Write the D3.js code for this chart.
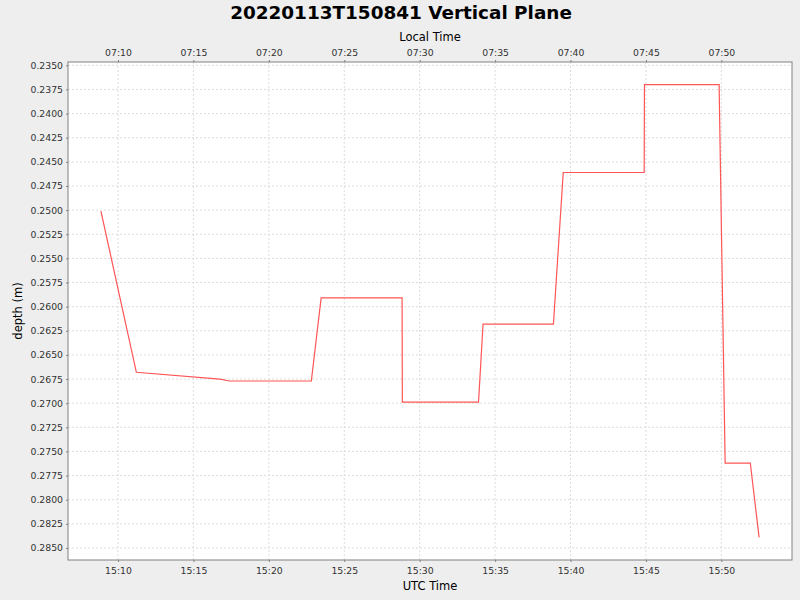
<!DOCTYPE html>
<html>
<head>
<meta charset="utf-8">
<script src="https://cdn.jsdelivr.net/npm/d3@7"></script>
<style>
  body { margin: 0; background: #eeeeee; }
  svg { display: block; font-family: "DejaVu Sans", sans-serif; }
</style>
</head>
<body>
<svg id="chart" width="800" height="600"></svg>
<script>
// Samples (UTC, 2022-01-13) and depth in metres
const times = [
  "15:08:52", "15:11:13", "15:16:45", "15:17:24", "15:22:49", "15:23:28",
  "15:28:50", "15:28:51", "15:33:54", "15:34:12", "15:38:52", "15:39:31",
  "15:44:53", "15:44:54", "15:49:51", "15:50:15", "15:51:55", "15:52:30"
];
const depths = [
  0.2501, 0.2668, 0.2675, 0.2677, 0.2677, 0.2591,
  0.2591, 0.2699, 0.2699, 0.2618, 0.2618, 0.2461,
  0.2461, 0.2370, 0.2370, 0.2762, 0.2762, 0.2839
];
const yTicks = d3.range(0, 21).map(i => 0.2350 + i * 0.0025);
const utcOffsetHours = -8;

const title = "20220113T150841 Vertical Plane";

const parse = d3.utcParse("%Y-%m-%d %H:%M:%S");
const data = times.map((t, i) => ({ t: parse("2022-01-13 " + t), d: depths[i] }));

const margin = { left: 68, right: 8, top: 62, bottom: 40 };
const width = 800 - margin.left - margin.right;
const height = 600 - margin.top - margin.bottom;
const tickFont = 9.3;

// auto range with 5% padding each side
const pad = (ext, f) => {
  const span = ext[1] - ext[0];
  return [ext[0] - span * f, ext[1] + span * f];
};
const tDom = pad(d3.extent(data, p => +p.t), 0.05);
const dDom = pad(d3.extent(data, p => p.d), 0.05);

const xScale = d3.scaleUtc()
  .domain(tDom.map(v => new Date(v)))
  .range([0, width]);
const xLocal = d3.scaleUtc()
  .domain(tDom.map(v => new Date(v + utcOffsetHours * 3600000)))
  .range([0, width]);
const yScale = d3.scaleLinear()
  .domain(dDom)
  .range([0, height]);

const svg = d3.select("#chart");
svg.append("rect").attr("width", 800).attr("height", 600).attr("fill", "#eeeeee");

svg.append("text")
  .attr("x", 401).attr("y", 18.5)
  .attr("text-anchor", "middle")
  .attr("font-size", 18.4).attr("font-weight", "bold")
  .text(title);

const g = svg.append("g").attr("transform", `translate(${margin.left}, ${margin.top})`);

g.append("rect")
  .attr("width", width).attr("height", height)
  .attr("fill", "#ffffff");

// grid
const xTickVals = xScale.ticks(d3.utcMinute.every(5));
g.append("g").selectAll("line").data(xTickVals).join("line")
  .attr("x1", d => xScale(d)).attr("x2", d => xScale(d))
  .attr("y1", 0).attr("y2", height)
  .attr("stroke", "#dcdcdc").attr("stroke-dasharray", "2,2");
g.append("g").selectAll("line").data(yTicks).join("line")
  .attr("x1", 0).attr("x2", width)
  .attr("y1", d => yScale(d)).attr("y2", d => yScale(d))
  .attr("stroke", "#dcdcdc").attr("stroke-dasharray", "2,2");

// line
const line = d3.line()
  .x(p => xScale(p.t))
  .y(p => yScale(p.d));
g.append("path")
  .datum(data)
  .attr("d", line)
  .attr("fill", "none")
  .attr("stroke", "#ff5555")
  .attr("stroke-width", 1.2);

// axes
const styleAxis = sel => {
  sel.select(".domain").remove();
  sel.selectAll(".tick line").attr("stroke", "#808080");
  sel.selectAll(".tick text").attr("font-size", tickFont).attr("fill", "#333333")
    .attr("font-family", "DejaVu Sans, sans-serif");
};

g.append("g")
  .attr("transform", `translate(0, ${height})`)
  .call(d3.axisBottom(xScale).tickValues(xTickVals)
    .tickFormat(d3.utcFormat("%H:%M")).tickSize(2).tickPadding(5))
  .call(styleAxis);

g.append("g")
  .call(d3.axisTop(xLocal).ticks(d3.utcMinute.every(5))
    .tickFormat(d3.utcFormat("%H:%M")).tickSize(2).tickPadding(4))
  .call(styleAxis);

g.append("g")
  .call(d3.axisLeft(yScale).tickValues(yTicks)
    .tickFormat(d3.format(".4f")).tickSize(2).tickPadding(3))
  .call(styleAxis);

// plot outline
g.append("rect")
  .attr("width", width).attr("height", height)
  .attr("fill", "none").attr("stroke", "#808080").attr("stroke-width", 1);

// axis labels
svg.append("text")
  .attr("x", margin.left + width / 2).attr("y", 589.5)
  .attr("text-anchor", "middle").attr("font-size", 11.5)
  .text("UTC Time");
svg.append("text")
  .attr("x", margin.left + width / 2).attr("y", 40.5)
  .attr("text-anchor", "middle").attr("font-size", 11.5)
  .text("Local Time");
svg.append("text")
  .attr("transform", `translate(22, ${margin.top + height / 2}) rotate(-90)`)
  .attr("text-anchor", "middle").attr("font-size", 11.5)
  .text("depth (m)");
</script>
</body>
</html>
